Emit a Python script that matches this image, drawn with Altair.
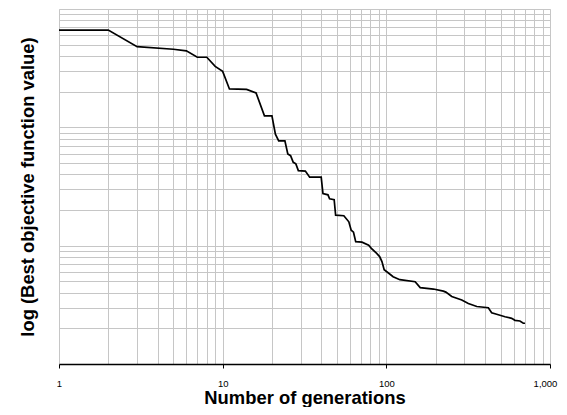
import altair as alt
import pandas as pd

# Number of generations (x) and best objective function value (y, relative units on a log scale)
GENERATIONS = [1, 2, 3, 5, 6, 7, 8, 9, 10, 11,
               14, 16, 18, 20, 21, 22, 24, 25, 26, 27,
               28, 29, 32, 34, 40, 41, 44, 45, 48, 49,
               55, 59, 61, 63, 65, 71, 78, 81, 87, 91,
               94, 97, 103, 110, 121, 150, 161, 194, 223, 231,
               251, 289, 317, 357, 420, 440, 472, 531, 583, 611,
               655, 687, 704]
BEST = [664, 664, 481, 457, 443, 391, 391, 327, 297, 211,
        209, 195, 125, 125, 87.5, 76.9, 76.9, 59.5, 57.6, 50.6,
        49.1, 43.1, 42.7, 37.9, 37.9, 27.5, 26.9, 24.9, 24.5, 18.1,
        17.9, 15.9, 13.5, 13.0, 10.8, 10.7, 10.1, 9.5, 8.64, 8.09,
        7.34, 6.26, 5.87, 5.47, 5.16, 4.96, 4.42, 4.30, 4.13, 4.05,
        3.72, 3.47, 3.25, 3.06, 2.99, 2.71, 2.63, 2.51, 2.43, 2.34,
        2.31, 2.21, 2.21]

X_GRID = [1, 2, 3, 4, 5, 6, 7, 8, 9,
          10, 20, 30, 40, 50, 60, 70, 80, 90,
          100, 200, 300, 400, 500, 600, 700, 800, 900, 1000]
Y_GRID = [1, 2, 3, 4, 5, 6, 7, 8, 9,
          10, 20, 30, 40, 50, 60, 70, 80, 90,
          100, 200, 300, 400, 500, 600, 700, 800, 900, 1000]
X_LABELED = [1, 10, 100, 1000]

assert len(GENERATIONS) == len(BEST)

df = pd.DataFrame({"gen": GENERATIONS, "best": BEST})

decade_test = " || ".join(f"datum.value == {v}" for v in X_LABELED)
FONT = "Liberation Sans"
GRID = "#c6c6c6"

chart = alt.Chart(df).mark_line(color="black", strokeWidth=1.7).encode(
    x=alt.X("gen:Q",
            scale=alt.Scale(type="log", domain=[1, 1000], nice=False),
            axis=alt.Axis(values=X_GRID,
                          title="Number of generations",
                          labelExpr=f"({decade_test}) ? format(datum.value, ',') : ''",
                          labelFlush=False, labelOverlap=False, labelBound=False,
                          labelFont=FONT, labelFontSize=9.5, labelColor="black",
                          labelPadding=10,
                          labelOffset={"condition": {"test": "datum.value == 1000", "value": -5},
                                       "value": 0},
                          tickColor="black", tickSize=4, tickWidth=1,
                          tickOpacity={"condition": {"test": decade_test, "value": 1}, "value": 0},
                          domainColor="black", domainWidth=1.5,
                          grid=True, gridColor=GRID, gridWidth=1,
                          titleFont=FONT, titleFontSize=18.4, titleFontWeight="bold",
                          titleColor="black", titlePadding=1, titleLimit=2000)),
    y=alt.Y("best:Q",
            scale=alt.Scale(type="log", domain=[1, 1000], nice=False),
            axis=alt.Axis(values=Y_GRID,
                          title="log (Best objective function value)",
                          labels=False, ticks=False, domain=False,
                          grid=True, gridColor=GRID, gridWidth=1,
                          titleFont=FONT, titleFontSize=18.4, titleFontWeight="bold",
                          titleColor="black", titlePadding=22, titleLimit=2000)),
).properties(
    width=491, height=355,
    autosize=alt.AutoSizeParams(type="none"),
    padding={"left": 51, "top": 1, "right": 9, "bottom": 43},
).configure_view(
    stroke="#808080", strokeWidth=1
).configure(background="white")

chart.save("out.html", embed_options={"renderer": "svg", "actions": False})
